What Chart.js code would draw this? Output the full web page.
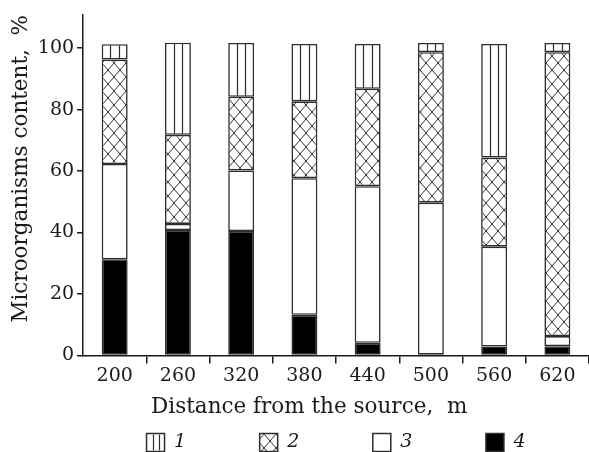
<!DOCTYPE html>
<html>
<head>
<meta charset="utf-8">
<title>Microorganisms content vs distance</title>
<script src="https://cdn.jsdelivr.net/npm/chart.js@4.4.1/dist/chart.umd.min.js"></script>
<style>
  html, body { margin: 0; padding: 0; background: #fff; }
  canvas { display: block; }
</style>
</head>
<body>
<canvas id="chart" width="589" height="452"></canvas>
<script>
// Stacked share of microorganism groups (%) at each distance from the source.
// Stacked from the bottom: group 4 (black), 3 (white), 2 (cross-hatch), 1 (columns).
const distances = ['200', '260', '320', '380', '440', '500', '560', '620'];
const group1 = [5, 30, 17.5, 18.7, 14.6, 3, 37, 3];
const group2 = [34, 29, 24, 25, 31.7, 49, 29, 92.4];
const group3 = [31, 2, 19.7, 44.5, 51, 49.7, 32.5, 3.3];
const group4 = [31.3, 40.8, 40.5, 13.2, 4.1, 0, 2.9, 3];
const groupLabels = ['1', '2', '3', '4'];
const yTicks = [0, 20, 40, 60, 80, 100];

const INK = '#1a1a1a';
const EDGE = '#2e2e2e';
const FONT = "'DejaVu Serif', 'Liberation Serif', serif";
const TITLE_SIZE = 21.5;

Chart.defaults.font.family = FONT;
Chart.defaults.font.size = 19;
Chart.defaults.color = INK;

// diagonal lattice used for group 2
function crossHatch() {
    const w = 12, h = 14;
    const c = document.createElement('canvas');
    c.width = w;
    c.height = h;
    const g = c.getContext('2d');
    g.fillStyle = '#fff';
    g.fillRect(0, 0, w, h);
    g.strokeStyle = '#333';
    g.lineWidth = 1;
    g.beginPath();
    g.moveTo(0, 0); g.lineTo(w, h);
    g.moveTo(w, 0); g.lineTo(0, h);
    g.stroke();
    return g.createPattern(c, 'repeat');
}

// group 1 is drawn as three columns: two inner vertical rules
function drawColumns(ctx, left, width, top, bottom) {
    ctx.save();
    ctx.strokeStyle = EDGE;
    ctx.lineWidth = 1.2;
    ctx.beginPath();
    for (const f of [1 / 3, 2 / 3]) {
        const x = Math.round(left + width * f) + 0.5;
        ctx.moveTo(x, top);
        ctx.lineTo(x, bottom);
    }
    ctx.stroke();
    ctx.restore();
}

const LINES_DATASET = 3;
const BOX_W = 18, BOX_H = 18;

const columnRules = {
    id: 'columnRules',
    afterDatasetsDraw(chart) {
        const ctx = chart.ctx;
        chart.getDatasetMeta(LINES_DATASET).data.forEach((bar) => {
            const { x, y, base, width } = bar.getProps(['x', 'y', 'base', 'width'], true);
            if (Math.abs(base - y) < 2) return;
            drawColumns(ctx, x - width / 2, width, Math.min(y, base) + 1, Math.max(y, base) - 1);
        });
    },
    afterDraw(chart) {
        const legend = chart.legend;
        if (!legend || !legend.legendItems) return;
        legend.legendItems.forEach((item, i) => {
            if (item.datasetIndex !== LINES_DATASET) return;
            const hb = legend.legendHitBoxes[i];
            const top = hb.top + (hb.height - BOX_H) / 2;
            drawColumns(chart.ctx, hb.left, BOX_W, top + 1, top + BOX_H - 1);
        });
    },
};

const bar = (label, data, fill) => ({
    label,
    data,
    backgroundColor: fill,
    borderColor: EDGE,
    borderWidth: 1.6,
    borderSkipped: false,
    barPercentage: 0.41,
    categoryPercentage: 1,
});

const ctx = document.getElementById('chart').getContext('2d');

new Chart(ctx, {
    type: 'bar',
    data: {
        labels: distances,
        datasets: [
            bar(groupLabels[3], group4, '#000'),
            bar(groupLabels[2], group3, '#fff'),
            bar(groupLabels[1], group2, crossHatch()),
            bar(groupLabels[0], group1, '#fff'),
        ],
    },
    options: {
        responsive: false,
        devicePixelRatio: 1,
        animation: false,
        // the legend reserves 10px under its row; let that slack hang off the canvas.
        // the last category runs a little past the right edge, as in the figure
        layout: { padding: { top: 12, left: 9, right: -2, bottom: -10 } },
        plugins: {
            tooltip: { enabled: false },
            legend: {
                position: 'bottom',
                fullSize: false,
                reverse: true,
                labels: {
                    boxWidth: BOX_W,
                    boxHeight: BOX_H,
                    padding: 1,
                    color: INK,
                    font: { family: FONT, size: 19, style: 'italic' },
                    // legend entries sit far apart in the figure; the built-in
                    // legend spaces rows and items with one padding, so widen
                    // the labels with blank space instead
                    generateLabels(chart) {
                        const items = Chart.defaults.plugins.legend.labels.generateLabels(chart);
                        items.forEach((it) => {
                            it.lineWidth = 1.5;
                            it.strokeStyle = EDGE;
                            if (it.datasetIndex !== 0) it.text += '\u2003\u2003\u2003\u2002 ';
                        });
                        return items;
                    },
                },
            },
        },
        scales: {
            x: {
                stacked: true,
                offset: true,
                border: { display: true, color: INK, width: 1.5 },
                grid: {
                    display: true,
                    offset: true,
                    drawOnChartArea: false,
                    drawTicks: true,
                    tickLength: 8,
                    lineWidth: 1.5,
                    color: (c) => (c.index === 0 ? 'rgba(0,0,0,0)' : INK),
                },
                ticks: { padding: 1, color: INK, font: { size: 19 } },
                title: {
                    display: true,
                    // trailing blanks pull the title left of the axis centre, as in the figure
                    text: 'Distance from the source,  m\u2003\u2003\u2002',
                    color: INK,
                    font: { size: TITLE_SIZE },
                    padding: { top: 6, bottom: 12 },
                },
            },
            y: {
                stacked: true,
                min: 0,
                max: 111,
                afterBuildTicks: (scale) => {
                    scale.ticks = yTicks.map((v) => ({ value: v }));
                },
                border: { display: true, color: INK, width: 1.5 },
                grid: {
                    display: true,
                    drawOnChartArea: false,
                    drawTicks: true,
                    tickLength: 6,
                    lineWidth: 1.5,
                    color: INK,
                },
                ticks: { padding: 3, color: INK, font: { size: 19 } },
                title: {
                    display: true,
                    // leading blanks lift the title above the axis centre, as in the figure
                    text: '\u2003\u2002Microorganisms content,  %',
                    color: INK,
                    font: { size: TITLE_SIZE },
                    padding: { top: 0, bottom: 0 },
                },
            },
        },
    },
    plugins: [columnRules],
});
</script>
</body>
</html>
